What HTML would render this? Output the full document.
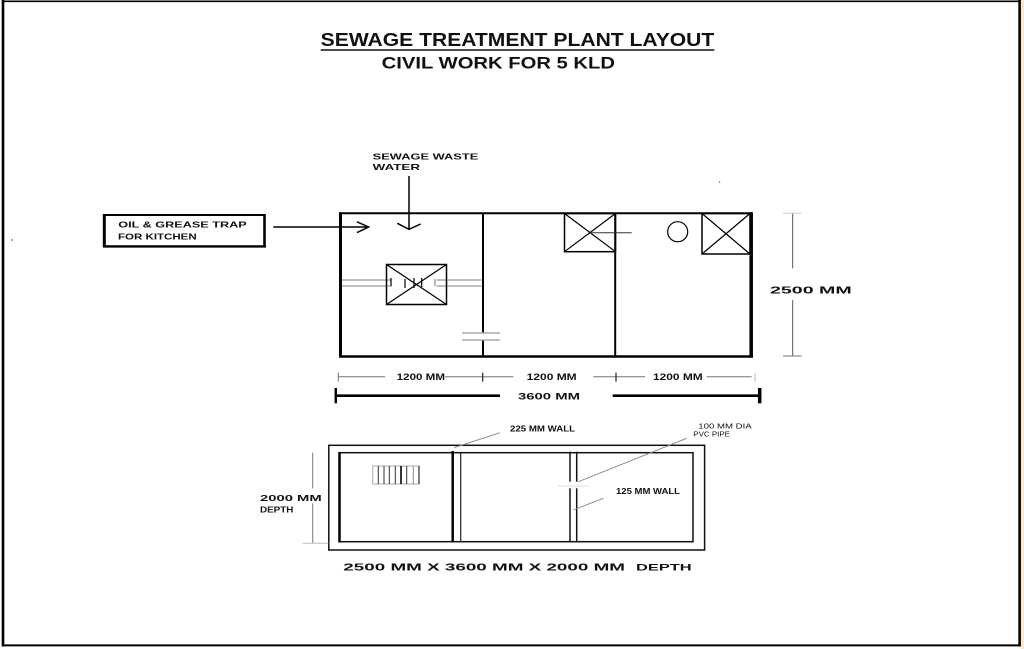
<!DOCTYPE html>
<html>
<head>
<meta charset="utf-8">
<style>
html,body{margin:0;padding:0;background:#fff;}
svg{display:block;}
text{font-family:"Liberation Sans",Arial,sans-serif;font-weight:bold;fill:#111;}
</style>
</head>
<body>
<svg width="1024" height="649" viewBox="0 0 1024 649" xmlns="http://www.w3.org/2000/svg">
<rect x="0" y="0" width="1024" height="649" fill="#fff"/>
<rect x="1021" y="0" width="3" height="649" fill="#f3ead0"/>
<!-- page border -->
<line x1="2" y1="1.3" x2="1020.5" y2="1.3" stroke="#000" stroke-width="1.6"/>
<line x1="3" y1="0" x2="3" y2="646.5" stroke="#000" stroke-width="2.6"/>
<line x1="1019.6" y1="0" x2="1019.6" y2="646.5" stroke="#000" stroke-width="2.6"/>
<line x1="2" y1="645.4" x2="1020.5" y2="645.4" stroke="#000" stroke-width="2"/>

<!-- Title -->
<text x="320.7" y="46" font-size="18.5" textLength="393.6" lengthAdjust="spacingAndGlyphs">SEWAGE TREATMENT PLANT LAYOUT</text>
<line x1="320.7" y1="50" x2="714.3" y2="50" stroke="#111" stroke-width="1.5"/>
<text x="381.7" y="68.3" font-size="17" textLength="233.3" lengthAdjust="spacingAndGlyphs">CIVIL WORK FOR 5 KLD</text>

<!-- sewage waste water label -->
<text x="372.7" y="159.3" font-size="8.5" textLength="105.6" lengthAdjust="spacingAndGlyphs">SEWAGE WASTE</text>
<text x="372.7" y="170" font-size="8.5" textLength="47.3" lengthAdjust="spacingAndGlyphs">WATER</text>

<!-- Oil box -->
<rect x="104.5" y="215" width="160" height="31.3" fill="none" stroke="#000" stroke-width="2"/>
<line x1="104.3" y1="214" x2="104.3" y2="247.5" stroke="#000" stroke-width="3"/>
<line x1="103" y1="246.5" x2="266" y2="246.5" stroke="#000" stroke-width="2.2"/>
<line x1="264.5" y1="214" x2="264.5" y2="247.5" stroke="#000" stroke-width="2.6"/>
<text x="118.3" y="227.7" font-size="8.5" textLength="128.4" lengthAdjust="spacingAndGlyphs">OIL &amp; GREASE TRAP</text>
<text x="118" y="239.3" font-size="8.5" textLength="78.7" lengthAdjust="spacingAndGlyphs">FOR  KITCHEN</text>

<!-- arrows -->
<line x1="273.3" y1="227" x2="368.3" y2="227" stroke="#000" stroke-width="1.5"/>
<polyline points="357,221.8 368.6,227 357,232.6" fill="none" stroke="#000" stroke-width="1.5"/>
<line x1="409" y1="176" x2="409" y2="229.3" stroke="#000" stroke-width="1.5"/>
<polyline points="397.3,223.3 409,229.3 420.7,224" fill="none" stroke="#000" stroke-width="1.5"/>

<!-- plan outer walls -->
<line x1="339.5" y1="213.3" x2="752" y2="213.3" stroke="#000" stroke-width="2"/>
<line x1="340.5" y1="212.3" x2="340.5" y2="357.5" stroke="#000" stroke-width="3"/>
<line x1="339.5" y1="356.5" x2="753" y2="356.5" stroke="#000" stroke-width="2.5"/>
<line x1="751.2" y1="212.3" x2="751.2" y2="357.5" stroke="#000" stroke-width="3.5"/>
<!-- dividers -->
<line x1="483" y1="213" x2="483" y2="333" stroke="#000" stroke-width="2"/>
<line x1="483" y1="340" x2="483" y2="357" stroke="#000" stroke-width="2"/>
<line x1="615.2" y1="213" x2="615.2" y2="357" stroke="#000" stroke-width="2"/>

<!-- gray pipe lines compartment 1 -->
<g stroke="#aaa" stroke-width="1.5">
<line x1="342" y1="280" x2="391.7" y2="280"/>
<line x1="342" y1="286" x2="391.7" y2="286"/>
<line x1="436.7" y1="280" x2="481.7" y2="280"/>
<line x1="436.7" y1="286" x2="481.7" y2="286"/>
<line x1="462" y1="333" x2="500" y2="333"/>
<line x1="462" y1="340" x2="500" y2="340"/>
</g>
<!-- box compartment 1 -->
<rect x="386.5" y="264.5" width="60" height="40" fill="none" stroke="#000" stroke-width="1.5"/>
<line x1="386.5" y1="264.5" x2="446.5" y2="304.5" stroke="#000" stroke-width="1.2"/>
<line x1="446.5" y1="264.5" x2="386.5" y2="304.5" stroke="#000" stroke-width="1.2"/>
<g stroke="#000" stroke-width="1.2">
<line x1="391" y1="278" x2="391" y2="286"/>
<line x1="405" y1="279" x2="405" y2="288"/>
<line x1="414" y1="278" x2="414" y2="288"/>
<line x1="421.7" y1="278" x2="421.7" y2="287"/>
</g>
<line x1="435" y1="279" x2="435" y2="286" stroke="#888" stroke-width="1.2"/>

<!-- compartment 2 box -->
<rect x="564.5" y="213.5" width="51" height="38.2" fill="none" stroke="#000" stroke-width="1.5"/>
<line x1="564.5" y1="213.5" x2="615.5" y2="251.7" stroke="#000" stroke-width="1.2"/>
<line x1="615.5" y1="213.5" x2="564.5" y2="251.7" stroke="#000" stroke-width="1.2"/>
<line x1="590" y1="232.7" x2="631.7" y2="232.7" stroke="#333" stroke-width="1"/>

<!-- compartment 3 -->
<circle cx="677.7" cy="231.7" r="10" fill="none" stroke="#000" stroke-width="1.2"/>
<rect x="702" y="213.5" width="48" height="40.5" fill="none" stroke="#000" stroke-width="1.5"/>
<line x1="702" y1="213.5" x2="750" y2="254" stroke="#000" stroke-width="1.2"/>
<line x1="750" y1="213.5" x2="702" y2="254" stroke="#000" stroke-width="1.2"/>

<!-- 2500 MM dim -->
<line x1="792.7" y1="213" x2="792.7" y2="268.3" stroke="#555" stroke-width="1"/>
<line x1="792.7" y1="300" x2="792.7" y2="356" stroke="#555" stroke-width="1"/>
<line x1="783" y1="213.3" x2="801.7" y2="213.3" stroke="#ccc" stroke-width="1"/>
<line x1="783" y1="356" x2="801.7" y2="356" stroke="#777" stroke-width="1"/>
<text x="770" y="293.3" font-size="10.5" textLength="81.7" lengthAdjust="spacingAndGlyphs">2500 MM</text>

<!-- 1200 dims -->
<g stroke="#777" stroke-width="1">
<line x1="338.3" y1="376.7" x2="385" y2="376.7"/>
<line x1="445" y1="376.7" x2="513.3" y2="376.7"/>
<line x1="593.3" y1="376.7" x2="645" y2="376.7"/>
<line x1="706.7" y1="376.7" x2="751.7" y2="376.7"/>
<line x1="338.3" y1="372.7" x2="338.3" y2="381.7"/>
<line x1="755" y1="372.7" x2="755" y2="381.7" stroke="#bbb"/>
</g>
<line x1="482.7" y1="372.7" x2="482.7" y2="381.7" stroke="#222" stroke-width="1.2"/>
<line x1="616" y1="372.7" x2="616" y2="381.7" stroke="#222" stroke-width="1.2"/>
<text x="396.7" y="380" font-size="9.5" textLength="48.3" lengthAdjust="spacingAndGlyphs">1200 MM</text>
<text x="526.7" y="380" font-size="9.5" textLength="50" lengthAdjust="spacingAndGlyphs">1200 MM</text>
<text x="653" y="380" font-size="9.5" textLength="49.7" lengthAdjust="spacingAndGlyphs">1200 MM</text>

<!-- 3600 dim -->
<line x1="335" y1="395.7" x2="500" y2="395.7" stroke="#000" stroke-width="2.7"/>
<line x1="612.7" y1="395.7" x2="760" y2="395.7" stroke="#000" stroke-width="2.7"/>
<line x1="335.8" y1="388" x2="335.8" y2="403.3" stroke="#000" stroke-width="2.5"/>
<line x1="759.7" y1="388" x2="759.7" y2="403.3" stroke="#000" stroke-width="3.5"/>
<text x="518" y="399.3" font-size="9" textLength="62" lengthAdjust="spacingAndGlyphs">3600 MM</text>

<!-- Lower section -->
<rect x="328.8" y="445.3" width="375.8" height="104.7" fill="none" stroke="#111" stroke-width="1.5"/>
<rect x="339.5" y="452.7" width="353.5" height="89" fill="none" stroke="#111" stroke-width="1.5"/>
<line x1="339.5" y1="452" x2="339.5" y2="542.5" stroke="#000" stroke-width="2.5"/>
<line x1="452.7" y1="451" x2="452.7" y2="541.7" stroke="#000" stroke-width="2.5"/>
<line x1="460.7" y1="452.7" x2="460.7" y2="541.7" stroke="#222" stroke-width="1.2"/>
<g stroke="#111" stroke-width="1.5">
<line x1="570" y1="451.7" x2="570" y2="481.7"/>
<line x1="570" y1="488.3" x2="570" y2="541.7"/>
<line x1="576.7" y1="451.7" x2="576.7" y2="481.7"/>
<line x1="576.7" y1="488.3" x2="576.7" y2="541.7"/>
</g>
<line x1="558" y1="486" x2="589" y2="486" stroke="#ddd" stroke-width="1"/>

<!-- stair -->
<rect x="372.7" y="466" width="46.3" height="18" fill="none" stroke="#aaa" stroke-width="1"/>
<g stroke="#333" stroke-width="1">
<line x1="378.3" y1="466" x2="378.3" y2="484"/>
<line x1="384" y1="466" x2="384" y2="484"/>
<line x1="389.3" y1="466" x2="389.3" y2="484"/>
<line x1="395.3" y1="466" x2="395.3" y2="484"/>
<line x1="401" y1="466" x2="401" y2="484" stroke-width="1.6" stroke="#000"/>
<line x1="406.7" y1="466" x2="406.7" y2="484"/>
<line x1="413.3" y1="466" x2="413.3" y2="484" stroke="#888"/>
<line x1="419" y1="466" x2="419" y2="484" stroke="#000"/>
</g>

<!-- leaders -->
<g stroke="#888" stroke-width="0.9">
<line x1="454" y1="447.7" x2="500" y2="432.7"/>
<line x1="578.3" y1="481.7" x2="686.7" y2="438.3"/>
<line x1="573.3" y1="510" x2="603.3" y2="498.3"/>
</g>

<text x="510" y="431.7" font-size="8" textLength="65" lengthAdjust="spacingAndGlyphs">225 MM WALL</text>
<text x="698.3" y="428.3" font-size="7.5" font-weight="normal" textLength="53.4" lengthAdjust="spacingAndGlyphs" style="font-weight:normal">100 MM DIA</text>
<text x="693.3" y="436.7" font-size="7.5" textLength="36.7" lengthAdjust="spacingAndGlyphs" style="font-weight:normal">PVC PIPE</text>
<text x="616" y="494" font-size="8" textLength="64" lengthAdjust="spacingAndGlyphs">125 MM WALL</text>

<!-- depth dim -->
<line x1="312.7" y1="452.7" x2="312.7" y2="488.3" stroke="#777" stroke-width="1"/>
<line x1="312.7" y1="503.3" x2="312.7" y2="543.3" stroke="#777" stroke-width="1"/>
<line x1="302.7" y1="543.3" x2="328.3" y2="543.3" stroke="#bbb" stroke-width="1"/>
<text x="260" y="501" font-size="8.2" textLength="61.7" lengthAdjust="spacingAndGlyphs">2000 MM</text>
<text x="260" y="512.7" font-size="8.2" textLength="33.3" lengthAdjust="spacingAndGlyphs">DEPTH</text>

<!-- bottom caption -->
<text x="343.3" y="570.7" font-size="10.5" textLength="281.7" lengthAdjust="spacingAndGlyphs">2500 MM X 3600 MM X 2000 MM</text>
<text x="636" y="570.7" font-size="9" textLength="55.7" lengthAdjust="spacingAndGlyphs">DEPTH</text>

<!-- small specks -->
<rect x="719" y="181.5" width="1.2" height="1.2" fill="#555"/>
<rect x="11.5" y="239" width="1" height="2" fill="#555"/>
</svg>
</body>
</html>
